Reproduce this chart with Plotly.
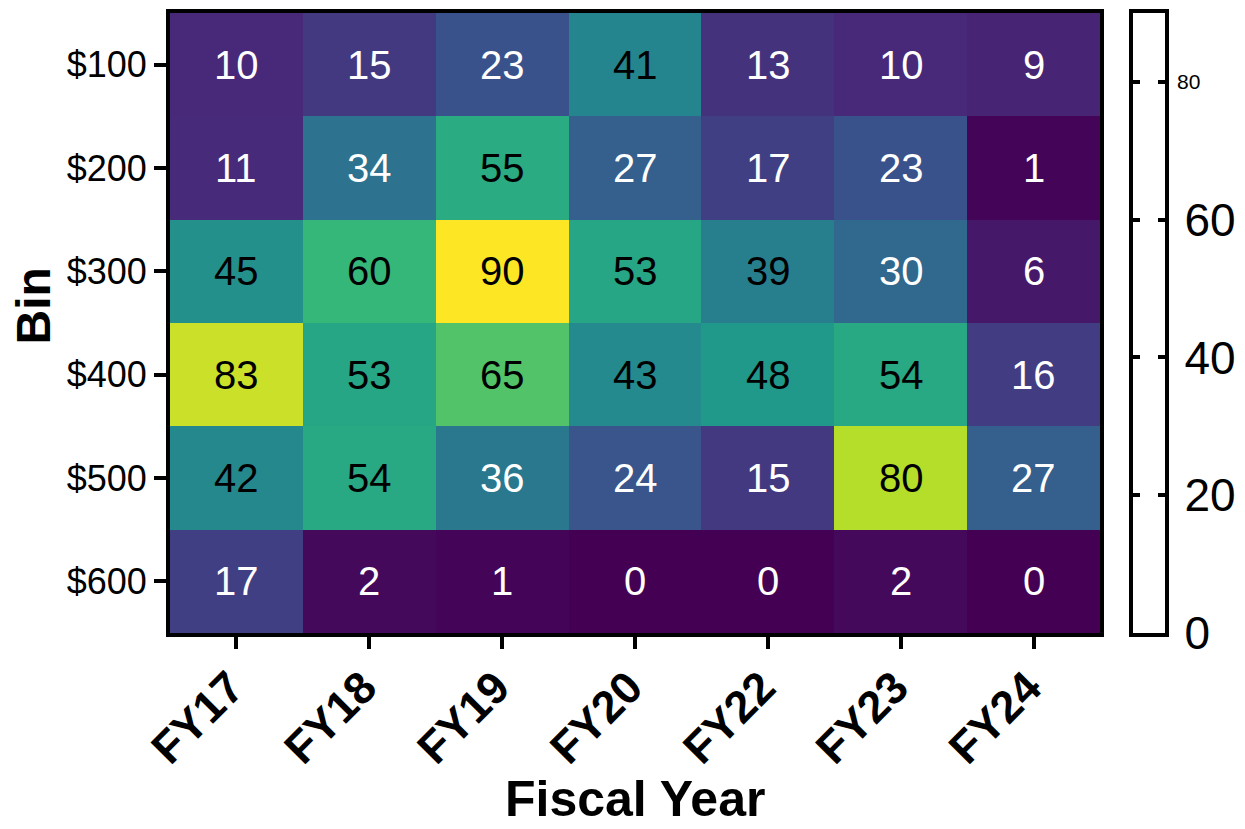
import plotly.graph_objects as go

# Fiscal-year columns and price-bin rows
years = ["FY17", "FY18", "FY19", "FY20", "FY22", "FY23", "FY24"]
bins = ["$100", "$200", "$300", "$400", "$500", "$600"]

# Counts per bin (rows) and fiscal year (columns)
counts = [
    [10, 15, 23, 41, 13, 10, 9],
    [11, 34, 55, 27, 17, 23, 1],
    [45, 60, 90, 53, 39, 30, 6],
    [83, 53, 65, 43, 48, 54, 16],
    [42, 54, 36, 24, 15, 80, 27],
    [17, 2, 1, 0, 0, 2, 0],
]

scale_ticks = [0, 20, 40, 60, 80]
scale_labels = ["0", "20", "40", "60", ""]
small_tick = 80  # top scale tick, labelled in a smaller font

FONT = "Liberation Sans, Arial, sans-serif"
W, H = 1245, 829
ML, MR, MT, MB = 170, 10, 9, 196
PW = W - ML - MR
PH = H - MT - MB

def px_x(p):
    return (p - ML) / PW

def px_y(p):
    return (H - MB - p) / PH

fig = go.Figure()

fig.add_trace(go.Heatmap(
    z=counts, x=years, y=bins,
    colorscale="Viridis", zmin=0, zmax=90,
    showscale=False, hoverinfo="x+y+z",
    xaxis="x", yaxis="y",
))

# Cell value labels: dark text on bright cells, white on dark cells
annotations = []
for i, b in enumerate(bins):
    for j, yr in enumerate(years):
        v = counts[i][j]
        annotations.append(dict(
            x=yr, y=b, xref="x", yref="y", text=str(v), showarrow=False,
            font=dict(family=FONT, size=40, color="black" if v >= 38 else "white"),
        ))

# Axis titles
annotations.append(dict(
    x=0.5, xref="x domain", y=px_y(800), yref="paper", text="<b>Fiscal Year</b>",
    showarrow=False, xanchor="center", yanchor="middle",
    font=dict(family=FONT, size=50, color="black"),
))
annotations.append(dict(
    x=px_x(33), xref="paper", y=px_y(304), yref="paper",
    text="<b>Bin</b>", textangle=-90, showarrow=False,
    xanchor="center", yanchor="middle",
    font=dict(family=FONT, size=48, color="black"),
))
# Small label on the top scale tick
annotations.append(dict(
    x=px_x(1178), xref="paper", y=small_tick, yref="y2", text=str(small_tick),
    showarrow=False, xanchor="left", yanchor="middle",
    font=dict(family=FONT, size=21, color="black"),
))

# Empty frame standing in for the colour scale, on its own axis pair
fig.add_trace(go.Scatter(x=[None], y=[None], xaxis="x2", yaxis="y2",
                         showlegend=False, hoverinfo="skip"))

axis_common = dict(showline=True, linecolor="black", linewidth=4, mirror=True,
                   showgrid=False, zeroline=False)

fig.update_layout(
    width=W, height=H,
    margin=dict(l=ML, r=MR, t=MT, b=MB),
    paper_bgcolor="white", plot_bgcolor="white",
    showlegend=False,
    font=dict(family=FONT, color="black"),
    xaxis=dict(
        domain=[0, px_x(1103)], **axis_common,
        ticks="outside", ticklen=12, tickwidth=4, tickcolor="black",
        tickangle=-45, tickfont=dict(family=FONT, size=45, color="black"),
        tickprefix="<b>", ticksuffix="</b>",
        ticklabelshift=-6, ticklabelstandoff=-6,
    ),
    yaxis=dict(
        domain=[0, 1], autorange="reversed", **axis_common,
        ticks="outside", ticklen=12, tickwidth=4, tickcolor="black",
        tickfont=dict(family=FONT, size=36, color="black"),
    ),
    xaxis2=dict(
        domain=[px_x(1136), px_x(1168)], anchor="y2", range=[0, 1],
        showticklabels=False, ticks="", **axis_common,
    ),
    yaxis2=dict(
        domain=[0, 1], anchor="x2", side="right", range=[0, 90],
        showline=True, linecolor="black", linewidth=4, mirror="ticks",
        showgrid=False, zeroline=False,
        ticks="inside", ticklen=7, tickwidth=4, tickcolor="black",
        tickvals=scale_ticks, ticktext=scale_labels,
        tickfont=dict(family=FONT, size=46, color="black"),
        ticklabelstandoff=6,
    ),
    annotations=annotations,
)

fig.write_html("out.html")
